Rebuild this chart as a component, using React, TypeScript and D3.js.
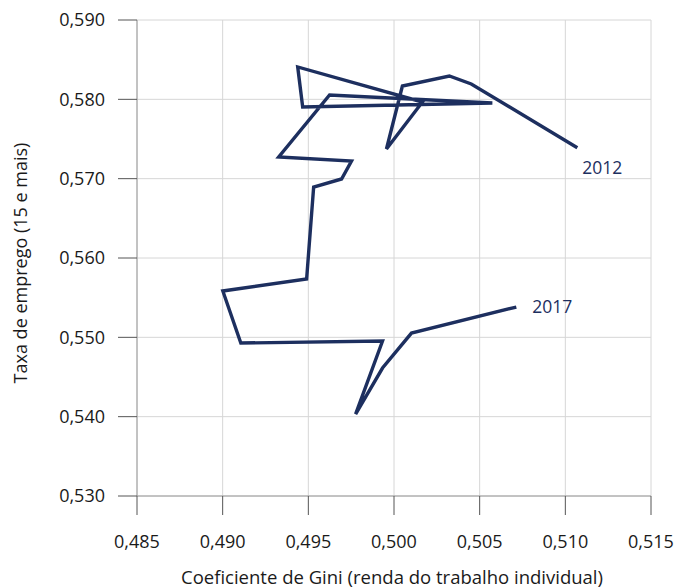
import React from "react";
import * as d3 from "d3";

const gini = [
  0.5107, 0.50451, 0.50323, 0.50049, 0.49956, 0.50166, 0.49438, 0.49467, 0.50574, 0.49624, 0.49327,
  0.49752, 0.49694, 0.49531, 0.4949, 0.49001, 0.49106, 0.49933, 0.49776, 0.49933, 0.50102, 0.50714,
];
const emprego = [
  0.5739, 0.58193, 0.58294, 0.58168, 0.57374, 0.57966, 0.58408, 0.57903, 0.57954, 0.58055, 0.57273,
  0.57223, 0.56996, 0.56895, 0.55735, 0.55584, 0.54928, 0.54954, 0.54033, 0.54613, 0.55054, 0.55382,
];
const xTicks = [0.485, 0.49, 0.495, 0.5, 0.505, 0.51, 0.515];
const yTicks = [0.53, 0.54, 0.55, 0.56, 0.57, 0.58, 0.59];
const startLabel = "2012";
const endLabel = "2017";
const xTitle = "Coeficiente de Gini (renda do trabalho individual)";
const yTitle = "Taxa de emprego (15 e mais)";

const W = 679;
const H = 588;
const left = 137, right = 651, top = 20, bottom = 496;
const NAVY = "#1d2f5f";
const TEXT = "#1a1a1a";
const FONT = "'Open Sans', 'Noto Sans', sans-serif";

export default function App() {
  const x = d3.scaleLinear().domain([0.485, 0.515]).range([left, right]);
  const y = d3.scaleLinear().domain([0.53, 0.59]).range([bottom, top]);
  const fmt = (v: number) => d3.format(".3f")(v).replace(".", ",");
  const pts: [number, number][] = gini.map((g, i) => [g, emprego[i]]);
  const line = d3.line<[number, number]>().x((d) => x(d[0])).y((d) => y(d[1]));
  const first = pts[0];
  const last = pts[pts.length - 1];

  return (
    <svg width={W} height={H} style={{ position: "absolute", left: 0, top: 0, background: "#fff" }} fontFamily={FONT}>
      {yTicks.map((t) => (
        <line key={"gy" + t} x1={left} x2={right} y1={y(t)} y2={y(t)} stroke="#d6d6d6" strokeWidth={1} />
      ))}
      {xTicks.map((t) => (
        <line key={"gx" + t} x1={x(t)} x2={x(t)} y1={top} y2={bottom} stroke="#d6d6d6" strokeWidth={1} />
      ))}
      <line x1={left} x2={left} y1={top} y2={bottom} stroke="#9a9a9a" strokeWidth={1} />
      <line x1={left} x2={right} y1={bottom} y2={bottom} stroke="#9a9a9a" strokeWidth={1} />
      {yTicks.map((t) => (
        <g key={"ty" + t}>
          <line x1={left - 19} x2={left} y1={y(t)} y2={y(t)} stroke="#555" strokeWidth={1} />
          <text x={105} y={y(t)} dy="0.35em" textAnchor="end" fontSize={18} fill={TEXT}>
            {fmt(t)}
          </text>
        </g>
      ))}
      {xTicks.map((t) => (
        <g key={"tx" + t}>
          <line x1={x(t)} x2={x(t)} y1={bottom} y2={bottom + 19} stroke="#555" strokeWidth={1} />
          <text x={x(t)} y={548} textAnchor="middle" fontSize={18} fill={TEXT}>
            {fmt(t)}
          </text>
        </g>
      ))}
      <text x={392} y={584} textAnchor="middle" fontSize={18.5} fill={TEXT}>
        {xTitle}
      </text>
      <text transform={`translate(27,263) rotate(-90)`} textAnchor="middle" fontSize={18} fill={TEXT}>
        {yTitle}
      </text>
      <path d={line(pts) || ""} fill="none" stroke={NAVY} strokeWidth={3.4} strokeLinejoin="miter" />
      <text x={x(first[0]) + 5} y={y(first[1]) + 26} fontSize={17.5} fill={NAVY}>
        {startLabel}
      </text>
      <text x={x(last[0]) + 16} y={y(last[1]) + 6} fontSize={17.5} fill={NAVY}>
        {endLabel}
      </text>
    </svg>
  );
}
